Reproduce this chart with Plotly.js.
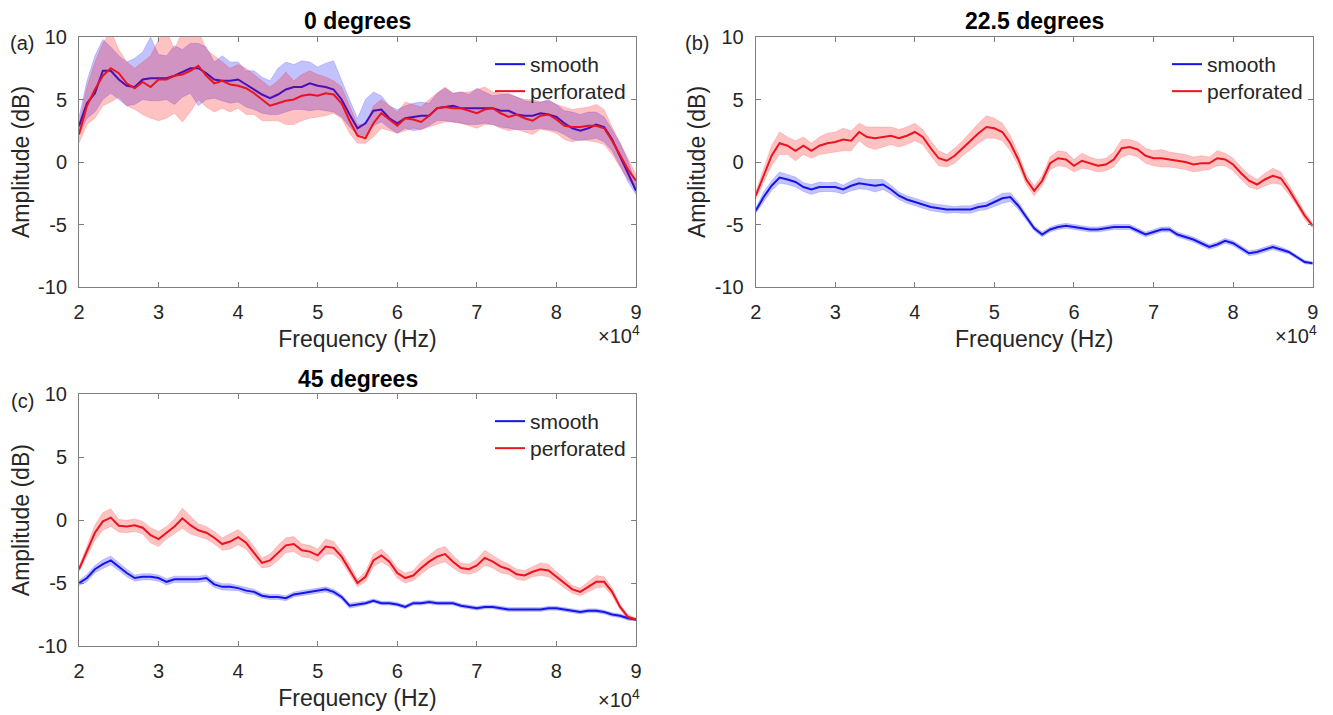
<!DOCTYPE html>
<html>
<head>
<meta charset="utf-8">
<script src="https://cdn.plot.ly/plotly-3.0.1.min.js"></script>
<style>html,body{margin:0;padding:0;background:#fff;}#chart{width:1333px;height:715px;}</style>
</head>
<body>
<div id="chart"></div>
<script>
// ---------- data (frequency in units of 10^4 Hz) ----------
const freq = [2.0,2.1,2.2,2.3,2.4,2.5,2.6,2.7,2.8,2.9,
  3.0,3.1,3.2,3.3,3.4,3.5,3.6,3.7,3.8,3.9,
  4.0,4.1,4.2,4.3,4.4,4.5,4.6,4.7,4.8,4.9,
  5.0,5.1,5.2,5.3,5.4,5.5,5.6,5.7,5.8,5.9,
  6.0,6.1,6.2,6.3,6.4,6.5,6.6,6.7,6.8,6.9,
  7.0,7.1,7.2,7.3,7.4,7.5,7.6,7.7,7.8,7.9,
  8.0,8.1,8.2,8.3,8.4,8.5,8.6,8.7,8.8,8.9,
  9.0];

const xTickVals = [2,3,4,5,6,7,8,9];
const xTickText = ['2','3','4','5','6','7','8','9'];
const yTickVals = [-10,-5,0,5,10];
const yTickText = ['-10','-5','0','5','10'];
const panelTitles = ['0 degrees','22.5 degrees','45 degrees'];
const panelLabels = ['(a)','(b)','(c)'];
const seriesNames = ['smooth','perforated'];

// (a) 0 degrees
const smoothA = [2.87,4.7,5.5,7.3,7.3,6.6,6.1,6.0,6.6,6.7,
  6.7,6.7,6.9,7.2,7.5,7.5,7.1,6.6,6.5,6.5,
  6.6,6.2,5.8,5.4,5.1,5.4,5.8,6.0,6.0,6.3,
  6.1,6.0,5.8,5.0,3.8,2.7,3.1,4.1,4.2,3.5,
  3.1,3.5,3.6,3.7,3.7,4.3,4.4,4.5,4.3,4.3,
  4.3,4.3,4.3,4.1,4.1,3.8,3.7,3.7,3.9,3.8,
  3.6,3.1,2.7,2.5,2.7,3.0,2.8,1.8,0.5,-0.9,
  -2.3];
const smoothUpperA = [3.6,6.5,8.5,9.8,9.2,8.5,8.0,8.3,8.8,10.0,
  8.6,8.5,9.3,9.0,9.5,9.5,9.2,8.0,8.5,8.0,
  8.0,7.3,7.3,6.8,6.5,7.5,8.0,7.8,8.1,8.0,
  7.6,7.9,8.1,6.5,5.0,3.5,5.0,5.6,5.3,4.5,
  4.2,4.5,4.7,4.8,4.7,5.5,5.9,5.5,5.6,5.4,
  5.9,5.6,5.3,5.4,5.5,5.2,4.9,4.8,4.8,5.0,
  4.6,4.1,4.0,3.8,4.0,4.0,3.6,2.6,1.5,0.1,
  -1.8];
const smoothLowerA = [2.2,3.5,4.0,5.0,5.5,5.0,4.5,4.6,5.0,4.9,
  4.9,5.0,4.6,5.2,5.5,4.5,5.0,5.1,4.9,4.7,
  4.8,4.4,4.2,3.9,3.8,3.8,4.0,4.2,4.2,4.1,
  4.2,4.1,4.0,3.6,2.8,2.2,2.1,2.9,3.2,2.7,
  2.3,2.7,2.5,2.6,2.9,3.3,3.3,3.2,3.1,3.0,
  3.0,3.1,3.0,2.8,2.7,2.6,2.6,2.6,2.7,2.6,
  2.5,2.2,1.8,1.7,1.8,1.9,1.6,0.9,-0.3,-1.6,
  -2.6];
const perfA = [2.2,4.5,5.8,6.9,7.5,7.1,6.3,5.9,6.4,6.0,
  6.6,6.6,6.9,7.0,7.3,7.7,6.9,6.3,6.5,6.2,
  6.1,5.9,5.5,5.0,4.5,4.7,4.9,5.0,5.3,5.4,
  5.3,5.5,5.4,4.7,3.3,2.1,1.9,3.1,3.9,3.4,
  2.9,3.5,3.4,3.2,3.7,4.3,4.4,4.3,4.3,4.1,
  3.9,4.2,4.3,3.9,3.6,3.8,3.5,3.3,3.7,3.8,
  3.4,2.9,2.8,2.8,2.9,2.9,2.7,1.7,0.6,-0.6,
  -1.5];
const perfUpperA = [3.0,6.0,8.0,9.5,10.5,9.0,8.0,7.5,8.0,8.5,
  9.8,10.5,9.0,10.5,10.5,10.5,9.0,8.5,8.0,7.5,
  7.8,7.5,7.0,6.5,6.0,6.5,7.2,6.5,7.0,7.3,
  7.0,6.8,6.5,6.0,4.5,3.0,3.0,4.5,5.0,4.5,
  4.0,4.8,4.6,4.4,5.0,5.5,6.0,5.5,5.6,5.6,
  5.8,6.0,5.6,5.5,5.4,5.2,5.0,5.0,4.8,4.9,
  4.6,4.4,4.2,4.3,4.4,4.6,4.2,2.8,1.5,0.3,
  -1.0];
const perfLowerA = [1.5,3.0,3.5,4.5,4.8,5.2,4.5,4.2,3.8,3.5,
  3.3,3.5,3.9,3.2,4.0,5.0,4.4,4.0,4.3,4.0,
  4.3,3.8,3.8,3.3,3.3,3.3,3.0,3.0,3.3,3.5,
  3.6,3.7,3.9,3.5,2.3,1.5,1.5,2.0,2.7,2.5,
  2.3,2.5,2.7,2.6,2.8,3.0,3.2,3.2,3.1,2.9,
  2.7,3.0,3.0,2.7,2.5,2.6,2.4,2.2,2.6,2.5,
  2.3,1.8,1.6,1.8,1.7,1.6,1.4,0.6,-0.4,-1.4,
  -2.1];

// (b) 22.5 degrees
const smoothB = [-3.9,-2.8,-1.9,-1.25,-1.4,-1.6,-2.0,-2.2,-2.0,-2.0,
  -2.0,-2.2,-1.9,-1.7,-1.8,-1.9,-1.8,-2.2,-2.7,-3.0,
  -3.2,-3.4,-3.6,-3.7,-3.8,-3.8,-3.8,-3.8,-3.6,-3.5,
  -3.2,-2.9,-2.8,-3.5,-4.4,-5.3,-5.8,-5.4,-5.2,-5.1,
  -5.2,-5.3,-5.4,-5.4,-5.3,-5.2,-5.2,-5.2,-5.5,-5.8,
  -5.6,-5.4,-5.4,-5.8,-6.0,-6.2,-6.5,-6.8,-6.6,-6.3,
  -6.5,-6.9,-7.3,-7.2,-7.0,-6.8,-7.0,-7.2,-7.6,-8.0,
  -8.1];
const smoothBandB = [0.2,0.4,0.4,0.45,0.4,0.4,0.35,0.4,0.4,0.35,
  0.4,0.35,0.4,0.45,0.4,0.5,0.4,0.35,0.3,0.3,
  0.3,0.3,0.3,0.3,0.3,0.25,0.3,0.3,0.3,0.3,
  0.35,0.4,0.35,0.3,0.25,0.2,0.2,0.2,0.2,0.2,
  0.2,0.2,0.2,0.2,0.2,0.2,0.2,0.2,0.2,0.2,
  0.2,0.2,0.2,0.2,0.2,0.2,0.2,0.2,0.2,0.2,
  0.2,0.2,0.2,0.2,0.2,0.2,0.2,0.15,0.15,0.15,
  0.1];
const perfB = [-2.7,-1.1,0.5,1.5,1.3,0.9,1.3,0.9,1.3,1.5,
  1.6,1.8,1.7,2.4,2.0,1.9,2.0,2.1,1.9,2.1,
  2.4,2.0,1.1,0.3,0.1,0.5,1.1,1.7,2.3,2.8,
  2.7,2.4,1.5,0.2,-1.4,-2.3,-1.5,-0.1,0.3,0.2,
  -0.3,0.1,-0.1,-0.3,-0.2,0.2,1.1,1.2,1.0,0.5,
  0.3,0.3,0.2,0.1,0.0,-0.2,-0.1,-0.1,0.3,0.2,
  -0.2,-0.9,-1.5,-1.8,-1.4,-1.1,-1.3,-2.2,-3.2,-4.3,
  -5.1];
const perfBandB = [0.3,0.5,0.8,0.9,0.7,0.8,0.7,0.6,0.7,0.8,
  0.8,0.9,0.8,0.7,0.8,0.9,0.8,0.7,0.7,0.7,
  0.7,0.6,0.6,0.6,0.5,0.6,0.6,0.7,0.8,0.9,
  0.8,0.7,0.6,0.5,0.4,0.4,0.4,0.5,0.6,0.6,
  0.5,0.6,0.5,0.5,0.5,0.6,0.7,0.6,0.6,0.6,
  0.6,0.7,0.6,0.6,0.6,0.6,0.6,0.5,0.6,0.5,
  0.5,0.5,0.5,0.4,0.5,0.6,0.5,0.4,0.3,0.3,
  0.2];

// (c) 45 degrees
const smoothC = [-5.0,-4.6,-3.9,-3.5,-3.2,-3.7,-4.2,-4.6,-4.5,-4.5,
  -4.6,-4.9,-4.7,-4.7,-4.7,-4.7,-4.6,-5.1,-5.3,-5.3,
  -5.4,-5.6,-5.7,-6.0,-6.1,-6.1,-6.2,-5.9,-5.8,-5.7,
  -5.6,-5.5,-5.7,-6.1,-6.8,-6.7,-6.6,-6.4,-6.6,-6.6,
  -6.7,-6.9,-6.6,-6.6,-6.5,-6.6,-6.6,-6.6,-6.8,-6.9,
  -7.0,-6.9,-6.9,-7.0,-7.1,-7.1,-7.1,-7.1,-7.1,-7.0,
  -7.0,-7.1,-7.2,-7.3,-7.2,-7.2,-7.3,-7.5,-7.6,-7.8,
  -7.9];
const smoothBandC = [0.2,0.3,0.3,0.35,0.35,0.3,0.3,0.25,0.25,0.25,
  0.25,0.25,0.25,0.25,0.25,0.25,0.25,0.25,0.25,0.25,
  0.2,0.25,0.2,0.2,0.2,0.2,0.2,0.2,0.2,0.2,
  0.2,0.2,0.2,0.2,0.2,0.15,0.15,0.15,0.15,0.15,
  0.15,0.15,0.15,0.15,0.15,0.15,0.15,0.15,0.15,0.15,
  0.15,0.15,0.15,0.15,0.15,0.15,0.15,0.15,0.15,0.15,
  0.15,0.15,0.15,0.15,0.15,0.15,0.15,0.15,0.15,0.15,
  0.1];
const perfC = [-3.9,-2.5,-1.0,-0.1,0.2,-0.45,-0.5,-0.4,-0.6,-1.2,
  -1.5,-1.0,-0.5,0.15,-0.4,-0.8,-1.0,-1.4,-1.9,-1.7,
  -1.35,-1.8,-2.6,-3.4,-3.2,-2.6,-2.0,-1.9,-2.4,-2.5,
  -2.8,-2.1,-2.2,-2.9,-3.9,-5.0,-4.5,-3.2,-2.8,-3.3,
  -4.2,-4.6,-4.4,-3.8,-3.3,-2.9,-2.7,-3.3,-3.8,-3.9,
  -3.6,-3.0,-3.3,-3.7,-3.9,-4.3,-4.4,-4.1,-3.9,-4.0,
  -4.5,-5.0,-5.5,-5.7,-5.3,-4.9,-4.9,-5.7,-6.9,-7.7,
  -7.9];
const perfBandC = [0.2,0.4,0.6,0.7,0.7,0.5,0.5,0.5,0.5,0.6,
  0.6,0.5,0.6,0.8,0.7,0.5,0.5,0.5,0.5,0.6,
  0.6,0.5,0.5,0.4,0.5,0.6,0.6,0.6,0.5,0.5,
  0.5,0.6,0.5,0.4,0.4,0.3,0.4,0.5,0.5,0.4,
  0.4,0.4,0.4,0.5,0.5,0.6,0.6,0.5,0.4,0.4,
  0.5,0.6,0.5,0.5,0.4,0.4,0.4,0.4,0.5,0.5,
  0.4,0.4,0.3,0.3,0.4,0.5,0.4,0.3,0.2,0.2,
  0.1];

// ---------- styling ----------
const FONT = 'Liberation Sans, Arial, Helvetica, sans-serif';
const BLUE = 'rgb(20,20,235)';
const RED = 'rgb(235,20,30)';
const BLUE_FILL = 'rgba(0,0,255,0.24)';
const RED_FILL = 'rgba(255,0,0,0.24)';
const AXIS_GREY = '#7f7f7f';
const TEXT = '#262626';
const W = 1333, H = 715;
const px = v => v / W;
const py = v => 1 - v / H;

function band(upper, lower, xa, ya, fill, edge) {
  return {
    type: 'scatter', mode: 'lines', xaxis: xa, yaxis: ya,
    x: freq.concat(freq.slice().reverse()),
    y: upper.concat(lower.slice().reverse()),
    fill: 'toself', fillcolor: fill,
    line: {width: 0.6, color: edge},
    showlegend: false, hoverinfo: 'skip'
  };
}
function meanLine(y, name, color, xa, ya, leg) {
  return {
    type: 'scatter', mode: 'lines', x: freq, y: y, name: name,
    xaxis: xa, yaxis: ya, legend: leg,
    line: {color: color, width: 2}
  };
}
const addArr = (a, b) => a.map((v, i) => v + b[i]);
const subArr = (a, b) => a.map((v, i) => v - b[i]);

const traces = [
  band(smoothUpperA, smoothLowerA, 'x', 'y', BLUE_FILL, 'rgba(0,0,255,0.25)'),
  meanLine(smoothA, seriesNames[0], BLUE, 'x', 'y', 'legend'),
  band(perfUpperA, perfLowerA, 'x', 'y', RED_FILL, 'rgba(255,0,0,0.25)'),
  meanLine(perfA, seriesNames[1], RED, 'x', 'y', 'legend2'),

  band(addArr(smoothB, smoothBandB), subArr(smoothB, smoothBandB), 'x2', 'y2', BLUE_FILL, 'rgba(0,0,255,0.25)'),
  meanLine(smoothB, seriesNames[0], BLUE, 'x2', 'y2', 'legend3'),
  band(addArr(perfB, perfBandB), subArr(perfB, perfBandB), 'x2', 'y2', RED_FILL, 'rgba(255,0,0,0.25)'),
  meanLine(perfB, seriesNames[1], RED, 'x2', 'y2', 'legend4'),

  band(addArr(smoothC, smoothBandC), subArr(smoothC, smoothBandC), 'x3', 'y3', BLUE_FILL, 'rgba(0,0,255,0.25)'),
  meanLine(smoothC, seriesNames[0], BLUE, 'x3', 'y3', 'legend5'),
  band(addArr(perfC, perfBandC), subArr(perfC, perfBandC), 'x3', 'y3', RED_FILL, 'rgba(255,0,0,0.25)'),
  meanLine(perfC, seriesNames[1], RED, 'x3', 'y3', 'legend6')
];

function xAxis(domain, anchor) {
  return {
    domain: domain, anchor: anchor, range: [2, 9],
    tickmode: 'array', tickvals: xTickVals, ticktext: xTickText,
    ticks: 'inside', ticklen: 5, tickcolor: AXIS_GREY, tickwidth: 1,
    showline: true, linecolor: AXIS_GREY, linewidth: 1, mirror: 'ticks',
    showgrid: false, zeroline: false, ticklabelstandoff: 7,
    tickfont: {family: FONT, size: 20, color: TEXT},
    title: {text: 'Frequency (Hz)', font: {family: FONT, size: 23, color: TEXT}, standoff: 8}
  };
}
function yAxis(domain, anchor) {
  return {
    domain: domain, anchor: anchor, range: [-10, 10],
    tickmode: 'array', tickvals: yTickVals, ticktext: yTickText,
    ticks: 'inside', ticklen: 5, tickcolor: AXIS_GREY, tickwidth: 1,
    showline: true, linecolor: AXIS_GREY, linewidth: 1, mirror: 'ticks',
    showgrid: false, zeroline: false, ticklabelstandoff: 7,
    tickfont: {family: FONT, size: 20, color: TEXT},
    title: {text: 'Amplitude (dB)', font: {family: FONT, size: 23, color: TEXT}, standoff: 2}
  };
}

const legendBase = {
  bgcolor: 'rgba(0,0,0,0)', borderwidth: 0,
  font: {family: FONT, size: 21, color: TEXT},
  xanchor: 'left', yanchor: 'top', tracegroupgap: 0, itemclick: false
};
// legend entries: top edge sits about 21 px above the entry centre
function leg(xLeft, yCentre) {
  return Object.assign({x: px(xLeft), y: py(yCentre - 21)}, legendBase);
}

const ann = [];
function txt(text, x, y, size, bold, xanchor) {
  ann.push({
    text: bold ? '<b>' + text + '</b>' : text,
    xref: 'paper', yref: 'paper', x: x, y: y,
    xanchor: xanchor || 'center', yanchor: 'middle', showarrow: false,
    font: {family: FONT, size: size, color: bold ? '#000' : TEXT}
  });
}
txt(panelTitles[0], px(357.5), py(21), 23, true);
txt(panelTitles[1], px(1034), py(21), 23, true);
txt(panelTitles[2], px(357.5), py(379), 23, true);
txt(panelLabels[0], px(22), py(43), 20, false);
txt(panelLabels[1], px(697), py(43), 20, false);
txt(panelLabels[2], px(22), py(401), 20, false);
txt('×10<sup>4</sup>', px(642), py(334), 20, false, 'right');
txt('×10<sup>4</sup>', px(1319), py(334), 20, false, 'right');
txt('×10<sup>4</sup>', px(642), py(698), 20, false, 'right');

const layout = {
  width: W, height: H,
  margin: {l: 0, r: 0, t: 0, b: 0, pad: 0},
  paper_bgcolor: '#fff', plot_bgcolor: '#fff',
  font: {family: FONT, color: TEXT},
  showlegend: true,
  xaxis: xAxis([px(79), px(636)], 'y'),
  yaxis: yAxis([py(287), py(37)], 'x'),
  xaxis2: xAxis([px(755.7), px(1312.7)], 'y2'),
  yaxis2: yAxis([py(287), py(37)], 'x2'),
  xaxis3: xAxis([px(79), px(636)], 'y3'),
  yaxis3: yAxis([py(646), py(394.3)], 'x3'),
  legend: leg(490, 65),
  legend2: leg(490, 92),
  legend3: leg(1167, 65),
  legend4: leg(1167, 92),
  legend5: leg(490, 422),
  legend6: leg(490, 449),
  annotations: ann
};

Plotly.newPlot('chart', traces, layout, {displayModeBar: false, staticPlot: true});
</script>
</body>
</html>
